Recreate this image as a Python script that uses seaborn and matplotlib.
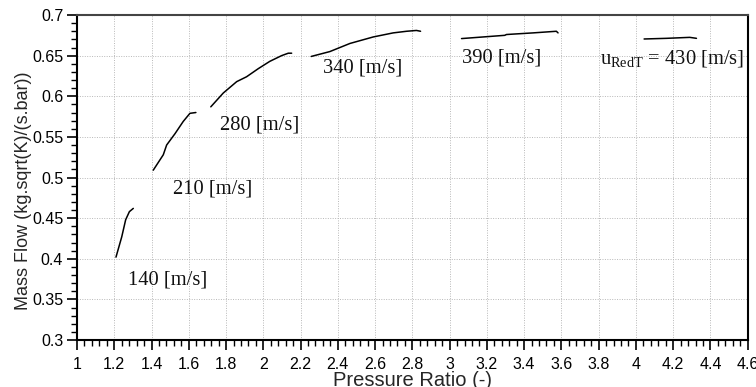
import numpy as np
import pandas as pd
import matplotlib
matplotlib.use("Agg")
import matplotlib.pyplot as plt
import seaborn as sns
from matplotlib.ticker import MultipleLocator

# Speed lines (pressure ratio, mass flow)
pr_140 = [1.209, 1.240, 1.261, 1.281, 1.302]
mf_140 = [0.402, 0.427, 0.448, 0.458, 0.462]

pr_210 = [1.409, 1.463, 1.481, 1.526, 1.570, 1.606, 1.638]
mf_210 = [0.509, 0.528, 0.540, 0.554, 0.569, 0.579, 0.580]

pr_280 = [1.718, 1.785, 1.857, 1.910, 1.973, 2.035, 2.098, 2.134, 2.152]
mf_280 = [0.587, 0.604, 0.618, 0.624, 0.634, 0.643, 0.650, 0.653, 0.653]

pr_340 = [2.257, 2.357, 2.465, 2.590, 2.697, 2.769, 2.822, 2.844]
mf_340 = [0.649, 0.655, 0.665, 0.673, 0.678, 0.680, 0.681, 0.680]

pr_390 = [3.064, 3.180, 3.296, 3.305, 3.448, 3.573, 3.582]
mf_390 = [0.671, 0.673, 0.675, 0.676, 0.678, 0.680, 0.678]

pr_430 = [4.044, 4.164, 4.289, 4.325]
mf_430 = [0.6705, 0.6713, 0.6725, 0.6713]

speeds = [140, 210, 280, 340, 390, 430]
label_texts = ["140 [m/s]", "210 [m/s]", "280 [m/s]", "340 [m/s]", "390 [m/s]",
               r"u$_{\mathrm{RedT}}$ = 430 [m/s]"]
label_x = [1.274, 1.517, 1.767, 2.321, 3.069, 3.806]
label_y = [0.374, 0.4855, 0.5646, 0.6344, 0.6467, 0.6467]

x_ticks = [1, 1.2, 1.4, 1.6, 1.8, 2, 2.2, 2.4, 2.6, 2.8, 3, 3.2, 3.4, 3.6, 3.8, 4, 4.2, 4.4, 4.6]
y_ticks = [0.3, 0.35, 0.4, 0.45, 0.5, 0.55, 0.6, 0.65, 0.7]

frames = []
for s, xs, ys in zip(speeds, [pr_140, pr_210, pr_280, pr_340, pr_390, pr_430],
                     [mf_140, mf_210, mf_280, mf_340, mf_390, mf_430]):
    frames.append(pd.DataFrame({"pr": xs, "mf": ys, "speed": s, "order": range(len(xs))}))
df = pd.concat(frames, ignore_index=True)

sns.set_theme(style="white")
plt.rcParams["font.family"] = ["Liberation Sans", "DejaVu Sans"]
plt.rcParams["mathtext.fontset"] = "custom"
plt.rcParams["mathtext.rm"] = "Liberation Serif"
plt.rcParams["mathtext.it"] = "Liberation Serif:italic"

fig = plt.figure(figsize=(7.56, 3.87), dpi=100)
ax = fig.add_axes([0.1019, 0.1214, 0.989 - 0.1019, 0.9612 - 0.1214])

sns.lineplot(data=df, x="pr", y="mf", units="speed", estimator=None, sort=False,
             color="black", linewidth=1.1, ax=ax, legend=False)

for t, lx, ly in zip(label_texts, label_x, label_y):
    ax.text(lx, ly, t, fontsize=14.8, family="Liberation Serif", va="center", ha="left",
            color="#111111")

ax.set_xlim(1, 4.6)
ax.set_ylim(0.3, 0.7)
ax.set_xticks(x_ticks)
ax.set_xticklabels([f"{v:g}" for v in x_ticks])
ax.set_yticks(y_ticks)
ax.set_yticklabels([f"{v:g}" for v in y_ticks])
ax.xaxis.set_minor_locator(MultipleLocator(0.04))
ax.yaxis.set_minor_locator(MultipleLocator(0.01))

ax.tick_params(axis="both", which="major", direction="out", length=7, width=1.2,
               colors="black", labelsize=11.5, bottom=True, left=True)
ax.tick_params(axis="both", which="minor", direction="out", length=4.5, width=1.0,
               colors="black", bottom=True, left=True)
ax.tick_params(axis="x", which="major", pad=5)
ax.tick_params(axis="y", which="major", pad=3)

ax.grid(True, which="major", linestyle=(0, (1, 1.5)), color="#b8b8b8", linewidth=0.7)
ax.set_axisbelow(True)

for side in ["left", "bottom", "right", "top"]:
    ax.spines[side].set_visible(True)
    ax.spines[side].set_color("black")
    ax.spines[side].set_linewidth(1.5)
ax.spines["top"].set_color("#444444")

ax.set_xlabel("Pressure Ratio (-)", fontsize=14.5)
ax.xaxis.set_label_coords(0.5, -0.094)
ax.set_ylabel("Mass Flow (kg.sqrt(K)/(s.bar))", fontsize=13)
ax.yaxis.set_label_coords(-0.067, 0.46)

fig.savefig("out.png", dpi=100)
